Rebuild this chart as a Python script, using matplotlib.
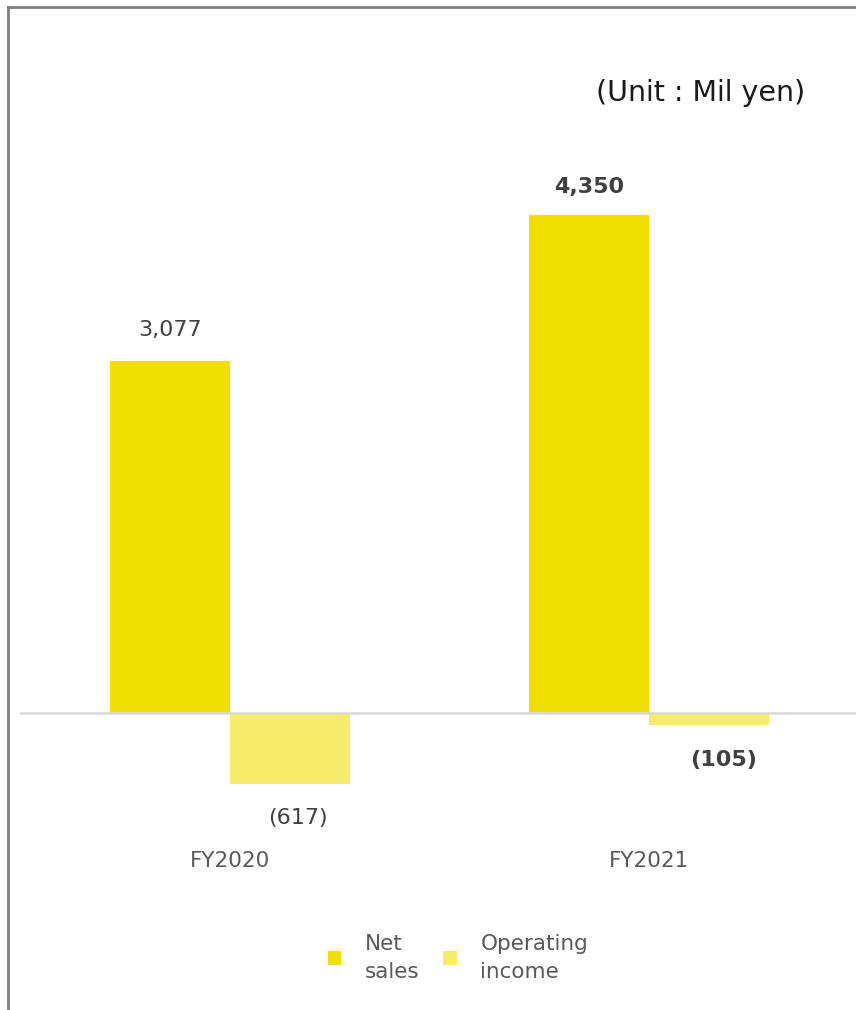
import numpy as np
import matplotlib.pyplot as plt
from matplotlib.lines import Line2D

# data
years = ["FY2020", "FY2021"]
net_sales = [3077, 4350]
operating_income = [-617, -105]
net_labels = ["3,077", "4,350"]
op_labels = ["(617)", "(105)"]
label_bold = [False, True]

NET_COLOR = "#F0E000"
OP_COLOR = "#F7EC6A"
TEXT_COLOR = "#404040"

W, H = 856, 1010
fig = plt.figure(figsize=(W / 100, H / 100), dpi=100)

# axes placed in pixel terms: x 20..859, y 120..800 (from top)
ax = fig.add_axes([20 / W, 1 - 800 / H, 839 / W, 680 / H])
ax.set_xlim(-0.5, 1.5)
ax.set_ylim(-760, 5180)

x = np.arange(len(years))
bw = 0.2857
b1 = ax.bar(x - bw / 2, net_sales, width=bw, color=NET_COLOR, label="Net\nsales")
b2 = ax.bar(x + bw / 2, operating_income, width=bw, color=OP_COLOR, label="Operating\nincome")
ax.axhline(0, color="#D9D9D9", lw=1.8, zorder=3)

# value labels: (dx, dy) offsets in points for net / op labels
net_off = [(0, 22), (0, 20)]
op_off = [(6, -25), (10, -25)]
for i in range(len(years)):
    fw = "bold" if label_bold[i] else "normal"
    ax.annotate(net_labels[i], (x[i] - bw / 2, net_sales[i]), xytext=net_off[i],
                textcoords="offset points", ha="center", va="center",
                fontsize=16, color=TEXT_COLOR, fontweight=fw)
    ax.annotate(op_labels[i], (x[i] + bw / 2, operating_income[i]), xytext=op_off[i],
                textcoords="offset points", ha="center", va="center",
                fontsize=16, color=TEXT_COLOR, fontweight=fw)
    ax.text(x[i], -1290, years[i], ha="center", va="center", fontsize=15.5,
            color="#595959")

for s in ax.spines.values():
    s.set_visible(False)
ax.set_xticks([])
ax.set_yticks([])

fig.text(805 / W, 1 - 93 / H, "(Unit : Mil yen)", ha="right", va="center",
         fontsize=20.5, color="#1a1a1a")

leg = ax.legend(handles=[b1, b2], loc="center", bbox_to_anchor=(458 / W, 1 - 958 / H),
                bbox_transform=fig.transFigure, ncol=2, frameon=False,
                fontsize=15.5, handlelength=0.62, handleheight=0.62,
                handletextpad=1.1, columnspacing=1.1, labelcolor="#595959")
for t in leg.get_texts():
    t.set_linespacing(1.55)

# outer frame (top and left edges visible)
fig.add_artist(Line2D([8 / W, 1.0], [1 - 7 / H, 1 - 7 / H], color="#808080", lw=2,
                      transform=fig.transFigure))
fig.add_artist(Line2D([8 / W, 8 / W], [0, 1 - 7 / H], color="#808080", lw=2,
                      transform=fig.transFigure))

fig.savefig("out.png", dpi=100)
